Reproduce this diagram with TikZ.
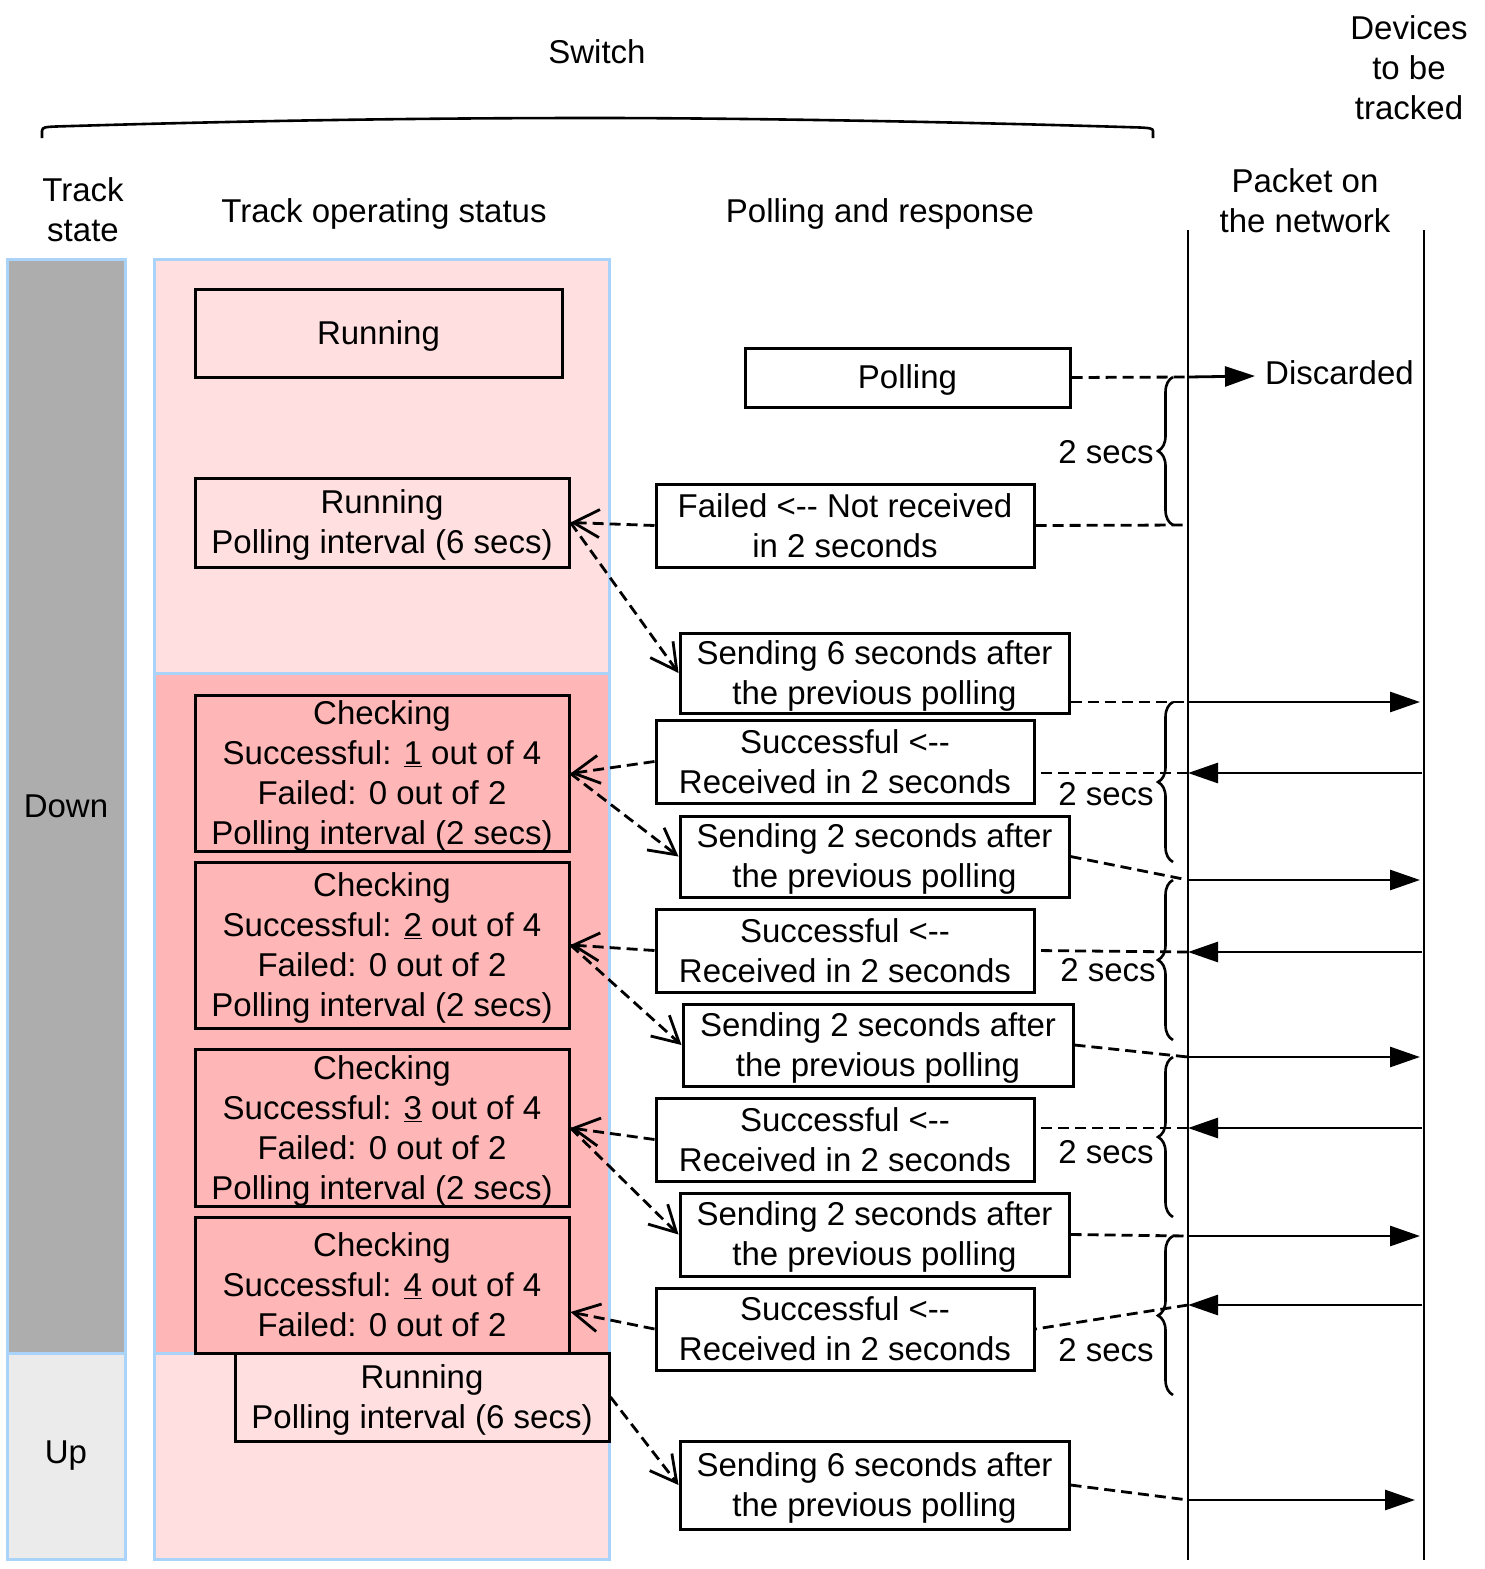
\documentclass[tikz,border=0pt]{standalone}
\usepackage{fontspec}
\setmainfont{Liberation Sans}
\usetikzlibrary{arrows.meta,decorations.pathreplacing,calc}
\definecolor{zgray}{HTML}{ADADAD}
\definecolor{zlgray}{HTML}{EBEBEB}
\definecolor{zpink}{HTML}{FFDFE0}
\definecolor{zdpink}{HTML}{FFB6B6}
\definecolor{zblue}{HTML}{AAD3FA}
\newcommand{\fl}{\rule{0pt}{29.5pt}}
\begin{document}
\begin{tikzpicture}[x=1pt,y=-1pt,
  font=\fontsize{33}{40}\selectfont,
  zone/.style={draw=zblue, line width=3pt, inner sep=0pt},
  box/.style={draw, line width=3pt, inner sep=0pt, align=center},
  lbl/.style={inner sep=0pt, align=center},
  solidln/.style={line width=2.8pt},
  dsh/.style={line width=2.8pt, dash pattern=on 11pt off 6pt},
  openarr/.style={-{Straight Barb[length=26pt,width=28pt]}},
  fillarr/.style={-{Triangle[length=30pt,width=20pt]}},
  brc/.style={line width=2.6pt, decorate, decoration={brace, amplitude=15pt}}
]
\useasboundingbox (0,0) rectangle (1484,1569);

% headers
\node[lbl] (switch) at (597,52) {Switch};
\node[lbl] (devices) at (1409,68) {Devices\\to be\\tracked};
\node[lbl] (tstate) at (83,210) {Track\\state};
\node[lbl] (tops) at (384,211) {\fl Track operating status};
\node[lbl] (poll) at (880,211) {\fl Polling and response};
\node[lbl] (packet) at (1305,201) {Packet on\\the network};

% top brace
\draw[line width=2.6pt] (42,138) -- (42,131) .. controls (42,127) and (46,127) .. (56,126.5)
  .. controls (300,119) and (480,118) .. (597,118)
  .. controls (720,118) and (930,121) .. (1140,127.5)
  .. controls (1150,128) and (1153,128.5) .. (1153,131) -- (1153,138);

% zones
\node[zone, fill=zgray, minimum width=118, minimum height=1094] (down) at (66,806) {Down};
\node[zone, fill=zlgray, minimum width=118, minimum height=206] (up) at (66,1456) {Up};
\node[zone, fill=zpink, minimum width=455, minimum height=414] (pk1) at (381.5,466) {};
\node[zone, fill=zdpink, minimum width=455, minimum height=680] (pk2) at (381.5,1013) {};
\node[zone, fill=zpink, minimum width=455, minimum height=206] (pk3) at (381.5,1456) {};

% status boxes
\node[box, fill=zpink, minimum width=367, minimum height=88] (Run1) at (378.5,333) {\fl Running};
\node[box, fill=zpink, minimum width=374, minimum height=89] (Run2) at (382,522.5) {\fl Running\\Polling interval (6 secs)};
\node[box, fill=zdpink, minimum width=374, minimum height=155] (Chk1) at (382,773.5) {\fl Checking\\Successful: \underline{1} out of 4\\Failed: 0 out of 2\\Polling interval (2 secs)};
\node[box, fill=zdpink, minimum width=374, minimum height=166] (Chk2) at (382,945) {\fl Checking\\Successful: \underline{2} out of 4\\Failed: 0 out of 2\\Polling interval (2 secs)};
\node[box, fill=zdpink, minimum width=374, minimum height=154] (Chk3) at (382,1128) {\fl Checking\\Successful: \underline{3} out of 4\\Failed: 0 out of 2\\Polling interval (2 secs)};
\node[box, fill=zdpink, minimum width=374, minimum height=136] (Chk4) at (382,1285) {Checking\\Successful: \underline{4} out of 4\\Failed: 0 out of 2};
\node[box, fill=zpink, minimum width=374, minimum height=88] (Run3) at (422,1397) {\fl Running\\Polling interval (6 secs)};

% polling and response boxes
\node[box, fill=white, minimum width=325, minimum height=59] (Poll) at (907.5,377.5) {\fl Polling};
\node[box, fill=white, minimum width=378, minimum height=83] (Fail) at (845,525.5) {Failed <-{}- Not received\\in 2 seconds};
\node[box, fill=white, minimum width=389, minimum height=80] (Snd1) at (874.5,673) {\fl Sending 6 seconds after\\the previous polling};
\node[box, fill=white, minimum width=378, minimum height=83] (Suc1) at (845,761.5) {Successful <-{}-\\Received in 2 seconds};
\node[box, fill=white, minimum width=389, minimum height=81] (Snd2) at (874.5,856.5) {\fl Sending 2 seconds after\\the previous polling};
\node[box, fill=white, minimum width=378, minimum height=83] (Suc2) at (845,950.5) {Successful <-{}-\\Received in 2 seconds};
\node[box, fill=white, minimum width=390, minimum height=82] (Snd3) at (878,1045) {\fl Sending 2 seconds after\\the previous polling};
\node[box, fill=white, minimum width=378, minimum height=83] (Suc3) at (845,1139.5) {Successful <-{}-\\Received in 2 seconds};
\node[box, fill=white, minimum width=389, minimum height=83] (Snd4) at (874.5,1234.5) {\fl Sending 2 seconds after\\the previous polling};
\node[box, fill=white, minimum width=378, minimum height=82] (Suc4) at (845,1329) {Successful <-{}-\\Received in 2 seconds};
\node[box, fill=white, minimum width=389, minimum height=88] (Snd5) at (874.5,1485) {\fl Sending 6 seconds after\\the previous polling};

% dashed arrows between status and polling boxes
\draw[dsh, openarr] (Fail.west) -- (Run2.east);
\draw[dsh, openarr] (Run2.east) -- (Snd1.west);
\draw[dsh, openarr] (Suc1.west) -- (Chk1.east);
\draw[dsh, openarr] (Chk1.east) -- (Snd2.west);
\draw[dsh, openarr] (Suc2.west) -- (Chk2.east);
\draw[dsh, openarr] (Chk2.east) -- (Snd3.west);
\draw[dsh, openarr] (Suc3.west) -- (Chk3.east);
\draw[dsh, openarr] (Chk3.east) -- (Snd4.west);
\draw[dsh, openarr] (Suc4.west) -- ($(Chk4.east)+(0,27)$);
\draw[dsh, openarr] (Run3.east) -- (Snd5.west);

% network lines
\coordinate (ltop) at (1188,230);
\coordinate (lbot) at (1188,1560);
\coordinate (rtop) at (1424,230);
\coordinate (rbot) at (1424,1560);
\draw[solidln] (ltop) -- (lbot);
\draw[solidln] (rtop) -- (rbot);

% points on left line
\coordinate (L0) at (1188,377);
\coordinate (L1) at (1188,525);
\coordinate (L2) at (1188,702);
\coordinate (L3) at (1188,773);
\coordinate (L4) at (1188,880);
\coordinate (L5) at (1188,952);
\coordinate (L6) at (1188,1057);
\coordinate (L7) at (1188,1128);
\coordinate (L8) at (1188,1236);
\coordinate (L9) at (1188,1305);
\coordinate (L10) at (1188,1500);
% points on right line
\coordinate (R2) at (1420,702);
\coordinate (R3) at (1422,773);
\coordinate (R4) at (1420,880);
\coordinate (R5) at (1422,952);
\coordinate (R6) at (1420,1057);
\coordinate (R7) at (1422,1128);
\coordinate (R8) at (1420,1236);
\coordinate (R9) at (1422,1305);
\coordinate (R10) at (1415,1500);

\node[lbl, anchor=west] (Disc) at (1265,373) {Discarded};

\draw[dsh] (Poll.east) -- (L0);
\draw[solidln, fillarr] (L0) -- (1255,376);
\draw[dsh] (Fail.east) -- (L1);
\draw[dsh] ($(Snd1.east)+(0,29)$) -- (L2);
\draw[solidln, fillarr] (L2) -- (R2);
\draw[solidln, fillarr] (R3) -- (L3);
\draw[dsh] (L3) -- ($(Suc1.east)+(0,11.5)$);
\draw[dsh] (Snd2.east) -- (L4);
\draw[solidln, fillarr] (L4) -- (R4);
\draw[solidln, fillarr] (R5) -- (L5);
\draw[dsh] (L5) -- (Suc2.east);
\draw[dsh] (Snd3.east) -- (L6);
\draw[solidln, fillarr] (L6) -- (R6);
\draw[solidln, fillarr] (R7) -- (L7);
\draw[dsh] (L7) -- ($(Suc3.east)+(0,-11.5)$);
\draw[dsh] (Snd4.east) -- (L8);
\draw[solidln, fillarr] (L8) -- (R8);
\draw[solidln, fillarr] (R9) -- (L9);
\draw[dsh] (L9) -- (Suc4.east);
\draw[dsh] (Snd5.east) -- (L10);
\draw[solidln, fillarr] (L10) -- (R10);

% braces and "2 secs"
\coordinate (B1a) at (1173,525); \coordinate (B1b) at (1173,377);
\coordinate (B2a) at (1173,862); \coordinate (B2b) at (1173,702);
\coordinate (B3a) at (1173,1040); \coordinate (B3b) at (1173,880);
\coordinate (B4a) at (1173,1217); \coordinate (B4b) at (1173,1057);
\coordinate (B5a) at (1173,1395); \coordinate (B5b) at (1173,1236);
\draw[brc] (B1a) -- (B1b);
\draw[brc] (B2a) -- (B2b);
\draw[brc] (B3a) -- (B3b);
\draw[brc] (B4a) -- (B4b);
\draw[brc] (B5a) -- (B5b);
\node[lbl] (S1) at (1106,452) {2 secs};
\node[lbl] (S2) at (1106,794) {2 secs};
\node[lbl] (S3) at (1108,970) {2 secs};
\node[lbl] (S4) at (1106,1152) {2 secs};
\node[lbl] (S5) at (1106,1350) {2 secs};
\end{tikzpicture}
\end{document}
